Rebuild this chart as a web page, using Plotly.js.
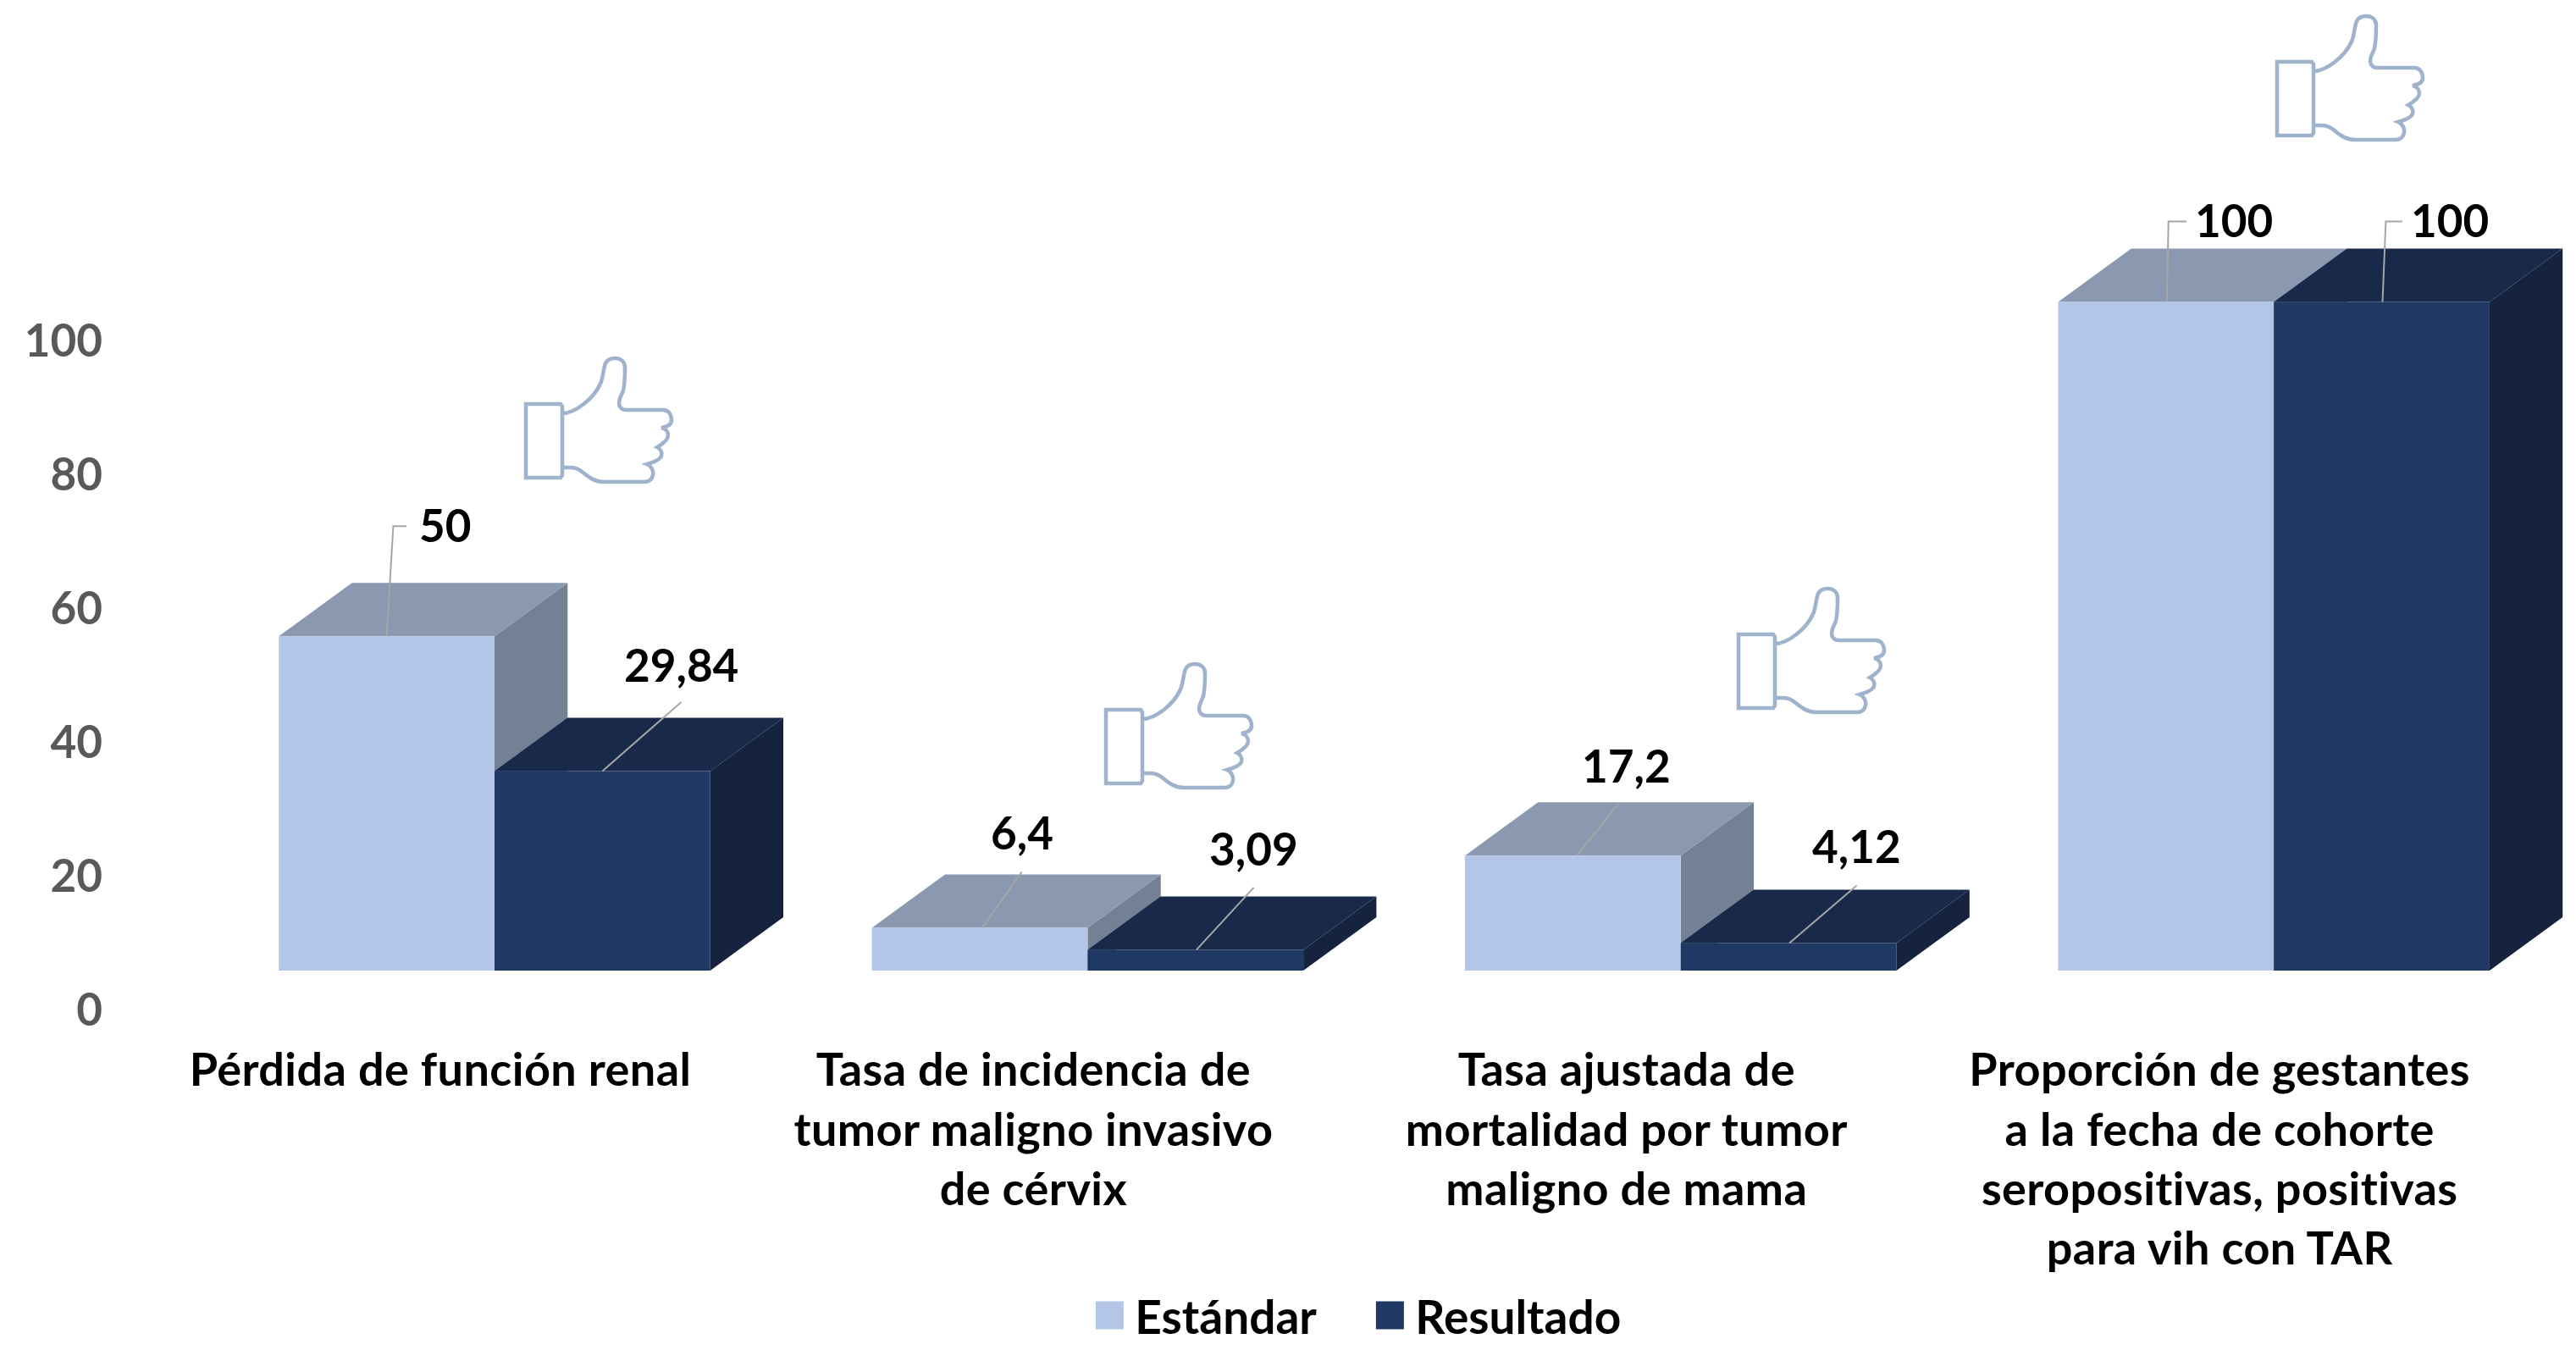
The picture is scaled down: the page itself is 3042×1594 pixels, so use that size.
<!DOCTYPE html>
<html><head><meta charset="utf-8">
<script src="https://cdn.plot.ly/plotly-3.0.1.min.js"></script>
<style>html,body{margin:0;padding:0;background:#fff}#c{width:3042px;height:1594px}.x2tick text{letter-spacing:0.42px}</style>
</head><body><div id="c"></div>
<script>
var categories = [
  "Pérdida de función renal",
  "Tasa de incidencia de<br>tumor maligno invasivo<br>de cérvix",
  "Tasa ajustada de<br>mortalidad por tumor<br>maligno de mama",
  "Proporción de gestantes<br>a la fecha de cohorte<br>seropositivas, positivas<br>para vih con TAR"
];
var estandar = [50, 6.4, 17.2, 100];
var resultado = [29.84, 3.09, 4.12, 100];
var yTicks = [0, 20, 40, 60, 80, 100];

var W = 3042, H = 1594, ML = 122;
var STEP = 700.4, C0 = 584, UNIT = 7.895, BASE = 1146;
var xRange = [(ML - C0) / STEP, (W - C0) / STEP];
var yRange = [-(H - BASE) / UNIT, BASE / UNIT];
var BW = 254.7 / STEP, DX = 86.3 / STEP, DY = 63 / UNIT;
var S = 1.94;

var LIGHT = '#b4c6e7', DARK = '#1f3864';
var FONT = 'Lato';

function face(xs, ys, color) {
  return {type:'scatter', mode:'lines', x:xs, y:ys, xaxis:'x', yaxis:'y', fill:'toself', fillcolor:color,
          line:{width:0, color:color}, hoverinfo:'skip', showlegend:false};
}
function faces(vals, left, topColor, sideColor) {
  var tx=[],ty=[],sx=[],sy=[];
  vals.forEach(function(v,i){
    var a = i + left, b = a + BW;
    tx.push(a, a+DX, b+DX, b, a, null); ty.push(v, v+DY, v+DY, v, v, null);
    sx.push(b, b+DX, b+DX, b, b, null); sy.push(0, DY, v+DY, v, 0, null);
  });
  return [face(sx, sy, sideColor), face(tx, ty, topColor)];
}
var traces = [].concat(
  faces(estandar, -BW, '#8a99b0', '#748094'),
  faces(resultado, 0, '#18294a', '#15233f'),
  [
    {type:'bar', name:'Estándar', x:categories, y:estandar, xaxis:'x2', yaxis:'y2',
     marker:{color:LIGHT, line:{width:0}}, hoverinfo:'y'},
    {type:'bar', name:'Resultado', x:categories, y:resultado, xaxis:'x2', yaxis:'y2',
     marker:{color:DARK, line:{width:0}}, hoverinfo:'y'}
  ]
);

// leader-line offsets and label offsets, in reference pixels/1.94, from each bar's front-top centre
var leadE = [[[0,0],[4,-67],[12,-67]], [[1.5,0],[25.5,-34]], [[2.5,0],[28,-32]], [[0.5,0],[1.5,-49],[12.5,-49]]];
var leadR = [[[0,0],[48,-42]], [[0.5,0],[35.5,-38]], [[0.5,0],[41.5,-35]], [[0.5,0],[2.5,-49],[12.5,-49]]];
var labE = [[35.5,-67],[25.5,-57],[32.5,-54],[41.5,-49]];
var labR = [[48,-64],[35.5,-61],[41.5,-58],[41.5,-49]];

var shapes = [], annotations = [];
function series(vals, side, lead, lab) {
  vals.forEach(function(v,i){
    var cx = i + side * BW / 2;
    var d = lead[i].map(function(p,k){
      return (k ? 'L' : 'M') + (cx + p[0]*S/STEP) + ',' + (v - p[1]*S/UNIT);
    }).join(' ');
    shapes.push({type:'path', layer:'above', xref:'x', yref:'y', path:d, line:{color:'#a6a6a6', width:2}});
    annotations.push({xref:'x', yref:'y', x:cx + lab[i][0]*S/STEP, y:v - lab[i][1]*S/UNIT, yshift:2,
      text:String(v).replace('.', ','), showarrow:false, xanchor:'center', yanchor:'middle',
      font:{family:FONT, size:53, weight:700, color:'#000'}});
  });
}
series(estandar, -1, leadE, labE);
series(resultado, 1, leadR, labR);

// thumbs-up icon, pixels from cuff's top-left corner, y downwards
var cuff = [[0,0],[41,0],[43,3],[43,84],[41,87],[0,87]];
var hand = [[43,11],
 [58,11,80,-6,88,-24],[91,-30,91,-40,94,-48],[96,-52,100,-54,105,-54],[112,-54,117,-50,117,-43],
 [117,-33,117,-25,115,-16],[113,-10,110,-7,110,-1],[110,3,113,7,118,7],[130,7,150,7,162,7],
 [168,7,172,12,172,19],[172,24,167,27,160,28],[165,29,168,33,168,37],[168,43,160,48,155,51],
 [159,53,161,57,160,61],[159,66,150,69,143,71],[148,73,151,79,150,84],[149,89,145,92,140,92],
 [120,92,105,92,92,92],[82,92,76,88,65,79],[58,74,52,75,43,75]];
var iconPath = 'M' + cuff.map(function(p){return p[0]+','+(-p[1]);}).join(' L') + ' Z ' +
  'M' + hand[0][0] + ',' + (-hand[0][1]) + ' ' +
  hand.slice(1).map(function(c){
    return 'C' + c[0]+','+(-c[1])+' '+c[2]+','+(-c[3])+' '+c[4]+','+(-c[5]);
  }).join(' ');
[[621,477],[1306,838],[2053,749],[2689,73]].forEach(function(p){
  shapes.push({type:'path', layer:'above', xref:'x', yref:'y',
    xsizemode:'pixel', ysizemode:'pixel',
    xanchor:(p[0]-C0)/STEP, yanchor:(BASE-p[1])/UNIT,
    path:iconPath, line:{color:'#a0b3cd', width:4.5}, fillcolor:'rgba(0,0,0,0)'});
});

var hidden = {showgrid:false, zeroline:false, showline:false, ticks:'', showticklabels:false};
var layout = {
  width:W, height:H, margin:{l:ML, r:0, t:0, b:0, pad:0, autoexpand:false},
  paper_bgcolor:'#fff', plot_bgcolor:'rgba(0,0,0,0)',
  barmode:'group', bargap:0.2726, bargroupgap:0,
  showlegend:true,
  legend:{orientation:'h', x:0.3967, xanchor:'left', y:0.0255, yanchor:'middle',
    font:{family:FONT, size:55, weight:700, color:'#000'}, itemwidth:50, entrywidth:266, entrywidthmode:'pixels',
    traceorder:'normal', bgcolor:'rgba(0,0,0,0)'},
  xaxis:Object.assign({type:'linear', range:xRange, fixedrange:true}, hidden),
  yaxis:Object.assign({type:'linear', range:yRange, fixedrange:true}, hidden),
  xaxis2:{type:'category', overlaying:'x', range:xRange, anchor:'free', position:0.23,
    showgrid:false, zeroline:false, showline:false, ticks:'', tickangle:0, automargin:false,
    tickfont:{family:FONT, size:54, weight:700, color:'#000'}, ticklabelshift:-64, ticklabelstandoff:0},
  yaxis2:{type:'linear', overlaying:'y', range:yRange, side:'left', anchor:'x2',
    showgrid:false, zeroline:false, showline:false, ticks:'', automargin:false,
    tickmode:'array', tickvals:yTicks, ticktext:yTicks.map(String),
    tickfont:{family:FONT, size:53, weight:700, color:'#595959'}, ticklabelshift:46},
  shapes:shapes, annotations:annotations
};
Plotly.newPlot('c', traces, layout, {displayModeBar:false, staticPlot:true}).then(function(gd){
  gd.querySelectorAll('.legendpoints path').forEach(function(p){
    p.setAttribute('transform', (p.getAttribute('transform') || '') + ' scale(2.75)');
  });
});
</script></body></html>
